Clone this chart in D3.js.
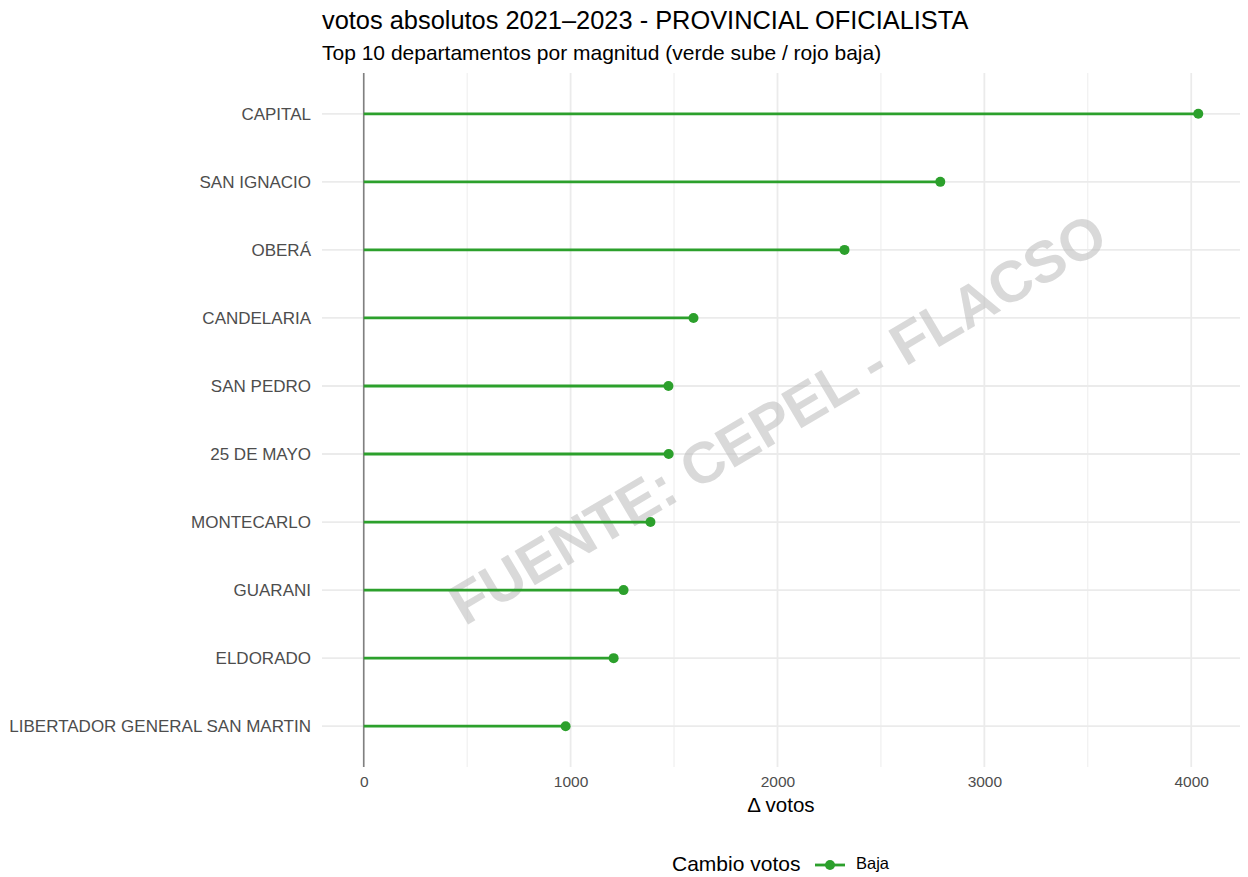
<!DOCTYPE html>
<html>
<head>
<meta charset="utf-8">
<script src="https://cdn.jsdelivr.net/npm/d3@7"></script>
<style>
  body { margin: 0; background: #fff; }
  svg { font-family: "Liberation Sans", Arial, sans-serif; }
</style>
</head>
<body>
<div id="chart"></div>
<script>
// data
const departamentos = ["CAPITAL", "SAN IGNACIO", "OBERÁ", "CANDELARIA", "SAN PEDRO",
  "25 DE MAYO", "MONTECARLO", "GUARANI", "ELDORADO", "LIBERTADOR GENERAL SAN MARTIN"];
const deltaVotos = [4034, 2787, 2324, 1594, 1473, 1474, 1386, 1256, 1208, 976];
const xTicks = [0, 1000, 2000, 3000, 4000];
const xMinor = [500, 1500, 2500, 3500];
const legendLabel = "Baja";

const width = 1248, height = 877;
const panel = { left: 322, right: 1240, top: 73, bottom: 767 };
const green = "#2ca02c";

const svg = d3.select("#chart").append("svg")
    .attr("width", width)
    .attr("height", height);

// ggplot-like 5% expansion
const maxV = d3.max(deltaVotos);
const pad = maxV * 0.05;
const x = d3.scaleLinear()
    .domain([-pad, maxV + pad])
    .range([panel.left, panel.right]);

const y = d3.scalePoint()
    .domain(departamentos)
    .range([panel.top, panel.bottom])
    .padding(0.6);

// grid
const grid = svg.append("g");
grid.selectAll(".minor").data(xMinor).enter().append("line")
    .attr("x1", d => x(d)).attr("x2", d => x(d))
    .attr("y1", panel.top).attr("y2", panel.bottom)
    .attr("stroke", "#ebebeb").attr("stroke-width", 0.9);
grid.selectAll(".major").data(xTicks).enter().append("line")
    .attr("x1", d => x(d)).attr("x2", d => x(d))
    .attr("y1", panel.top).attr("y2", panel.bottom)
    .attr("stroke", "#ebebeb").attr("stroke-width", 1.8);
grid.selectAll(".hrow").data(departamentos).enter().append("line")
    .attr("x1", panel.left).attr("x2", panel.right)
    .attr("y1", d => y(d)).attr("y2", d => y(d))
    .attr("stroke", "#ebebeb").attr("stroke-width", 1.8);

// zero line
svg.append("line")
    .attr("x1", x(0)).attr("x2", x(0))
    .attr("y1", panel.top).attr("y2", panel.bottom)
    .attr("stroke", "#808080").attr("stroke-width", 1.6);

// watermark
svg.append("text")
    .attr("transform", `translate(${(panel.left + panel.right) / 2 - 1},${(panel.top + panel.bottom) / 2 + 3}) rotate(-30.5)`)
    .attr("text-anchor", "middle")
    .attr("dominant-baseline", "middle")
    .attr("font-size", 58)
    .attr("font-weight", "bold")
    .attr("fill", "#bfbfbf")
    .attr("fill-opacity", 0.6)
    .text("FUENTE: CEPEL - FLACSO");

// lollipops
const rows = departamentos.map((d, i) => ({ name: d, value: deltaVotos[i] }));
svg.selectAll(".stem").data(rows).enter().append("line")
    .attr("x1", x(0)).attr("x2", d => x(d.value))
    .attr("y1", d => y(d.name)).attr("y2", d => y(d.name))
    .attr("stroke", green).attr("stroke-width", 2.8);
svg.selectAll(".dot").data(rows).enter().append("circle")
    .attr("cx", d => x(d.value)).attr("cy", d => y(d.name))
    .attr("r", 5).attr("fill", green);

// axes
const xAxis = svg.append("g")
    .attr("transform", `translate(0,${panel.bottom})`)
    .call(d3.axisBottom(x).tickValues(xTicks).tickSize(0).tickPadding(9).tickFormat(d3.format("d")));
xAxis.select(".domain").remove();
xAxis.selectAll("text").attr("font-size", 15.5).attr("fill", "#4d4d4d")
    .attr("font-family", "Liberation Sans, Arial, sans-serif");

const yAxis = svg.append("g")
    .attr("transform", `translate(${panel.left},0)`)
    .call(d3.axisLeft(y).tickSize(0).tickPadding(11));
yAxis.select(".domain").remove();
yAxis.selectAll("text").attr("font-size", 17).attr("fill", "#4d4d4d")
    .attr("font-family", "Liberation Sans, Arial, sans-serif");

// titles
svg.append("text").attr("x", 322).attr("y", 29)
    .attr("font-size", 25.4).attr("fill", "#000")
    .text("votos absolutos 2021–2023 - PROVINCIAL OFICIALISTA");
svg.append("text").attr("x", 322).attr("y", 60)
    .attr("font-size", 21).attr("fill", "#000")
    .text("Top 10 departamentos por magnitud (verde sube / rojo baja)");
svg.append("text").attr("x", (panel.left + panel.right) / 2).attr("y", 812)
    .attr("text-anchor", "middle").attr("font-size", 20.5).attr("fill", "#000")
    .text("Δ votos");

// legend
const lg = svg.append("g").attr("transform", "translate(672,865)");
lg.append("text").attr("x", 0).attr("y", 0).attr("dominant-baseline", "middle")
    .attr("font-size", 21).attr("fill", "#000").text("Cambio votos");
lg.append("line").attr("x1", 143).attr("x2", 173).attr("y1", 0).attr("y2", 0)
    .attr("stroke", green).attr("stroke-width", 2.8);
lg.append("circle").attr("cx", 158).attr("cy", 0).attr("r", 5).attr("fill", green);
lg.append("text").attr("x", 184).attr("y", 0).attr("dominant-baseline", "middle")
    .attr("font-size", 16.5).attr("fill", "#000").text(legendLabel);
</script>
</body>
</html>
